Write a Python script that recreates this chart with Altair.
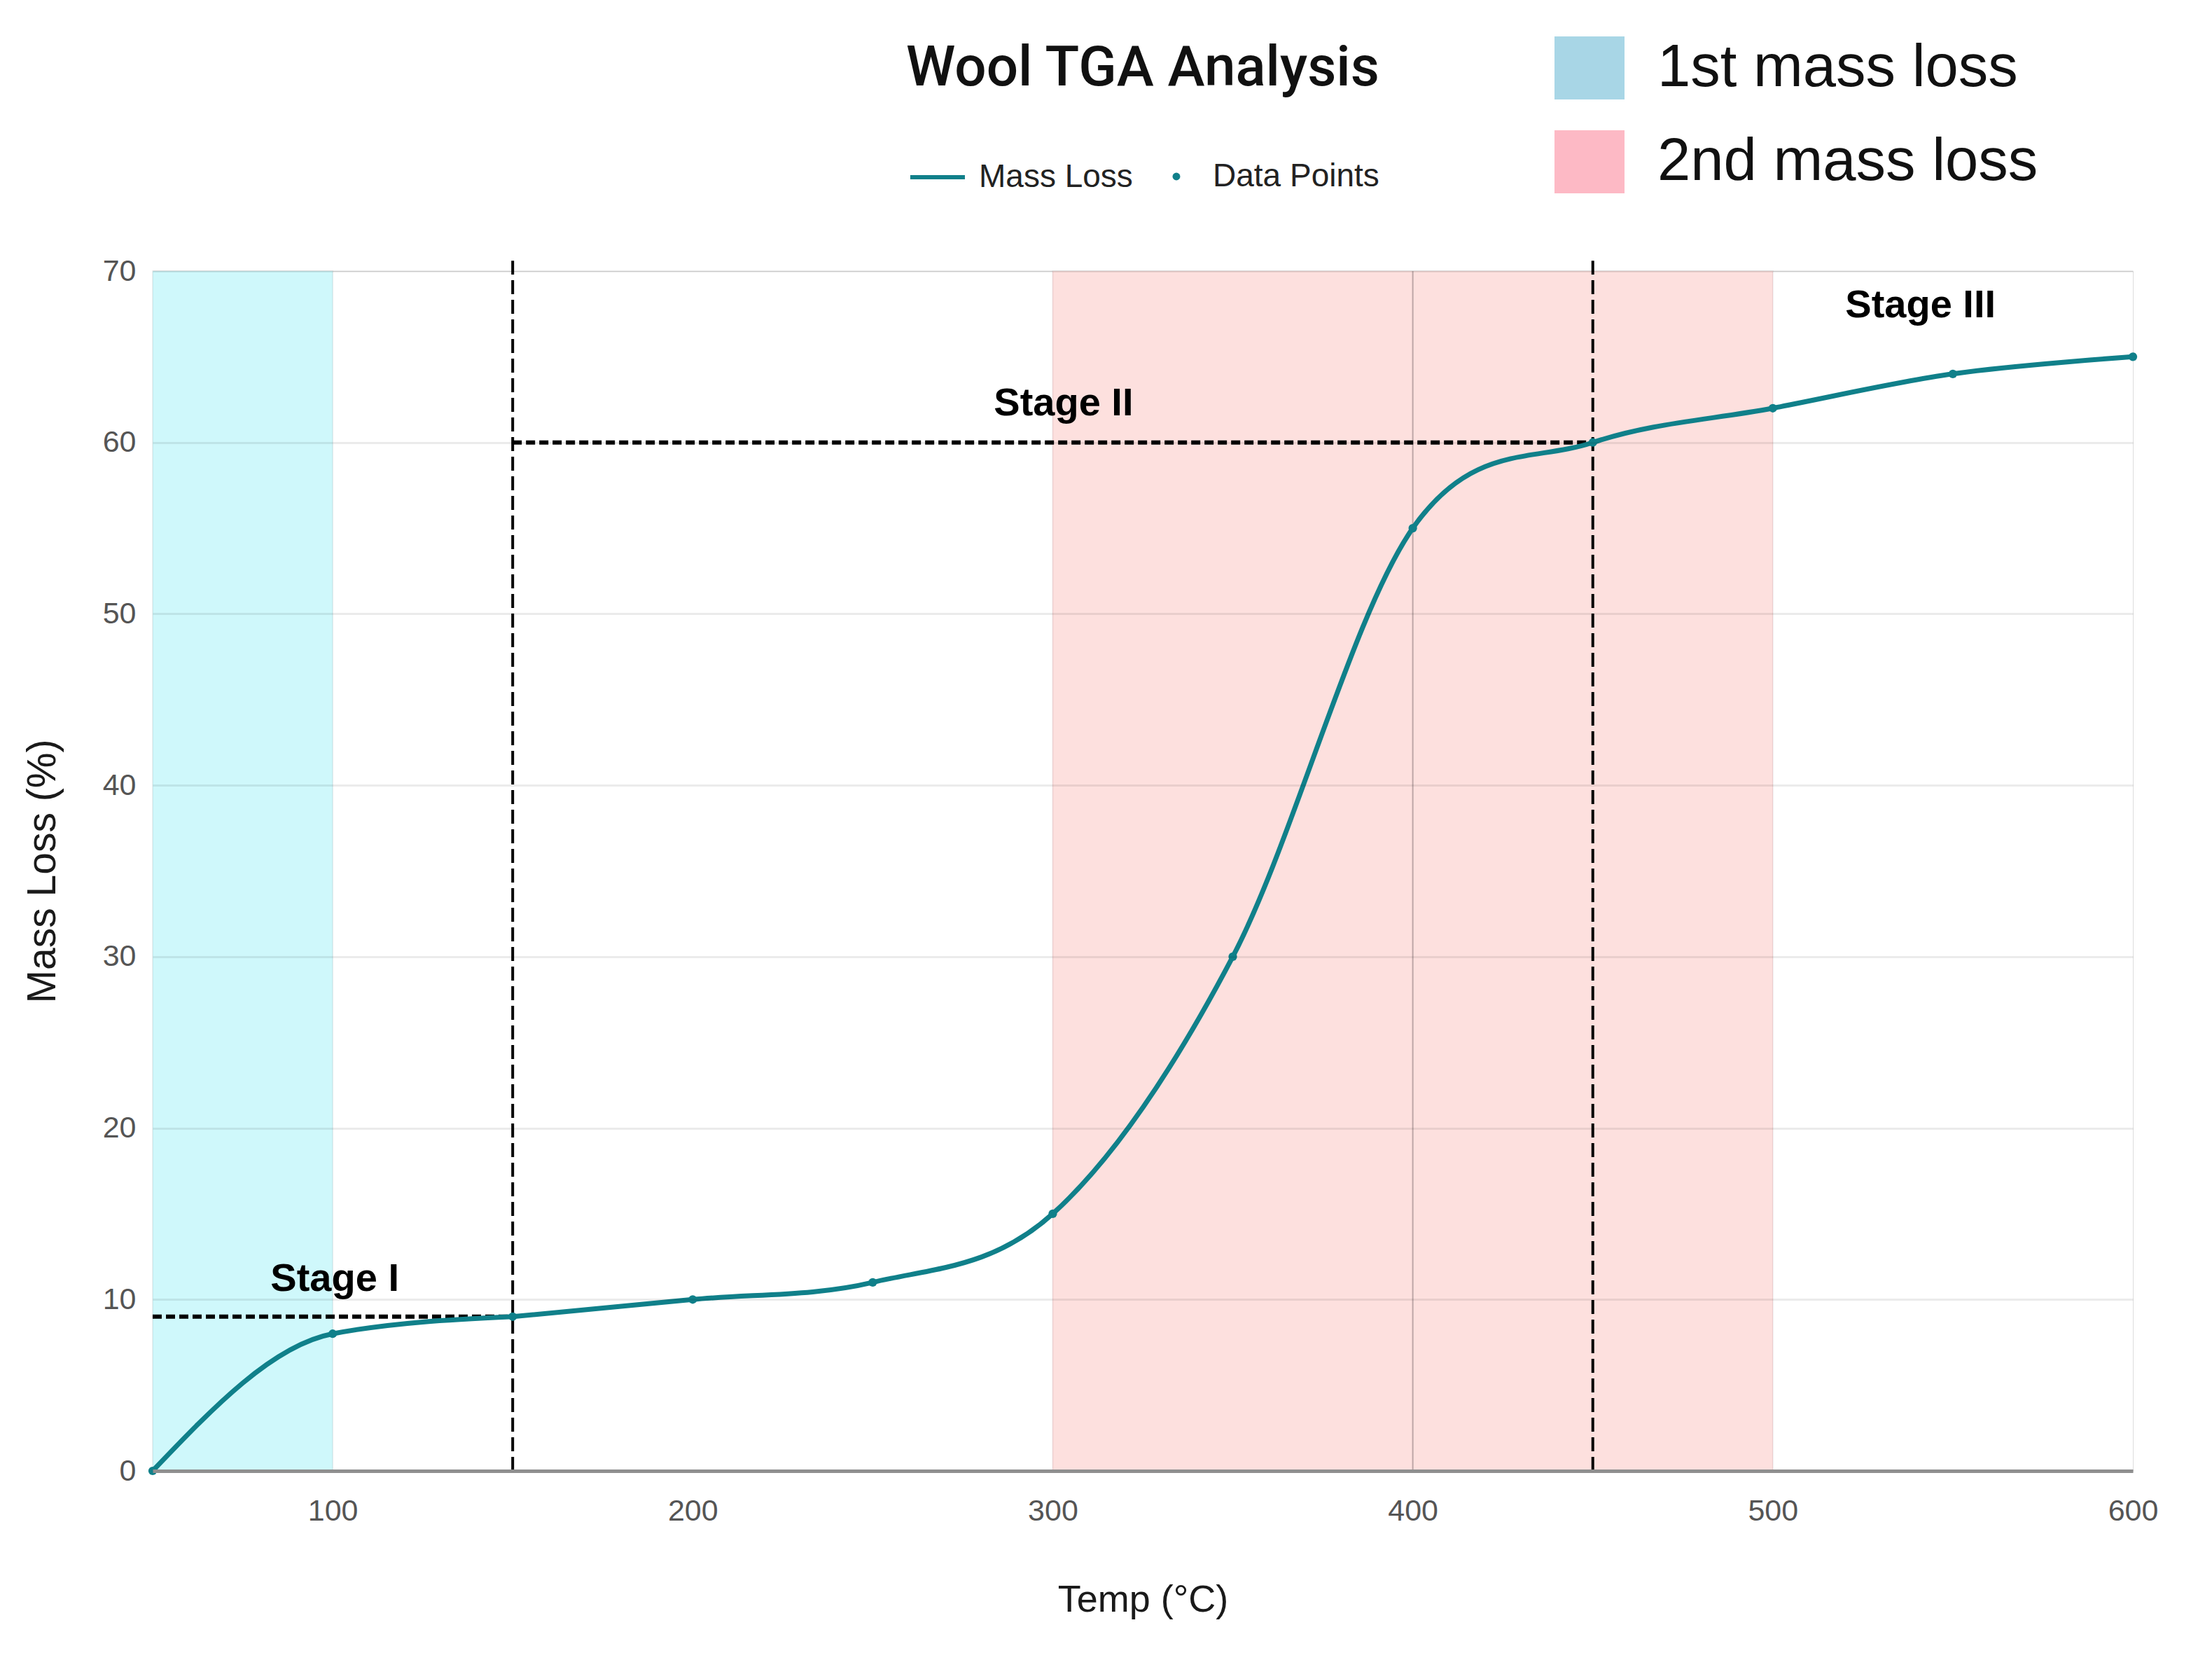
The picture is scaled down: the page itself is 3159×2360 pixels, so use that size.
import altair as alt
import pandas as pd

# ---- data ----
temps = [50, 100, 150, 200, 250, 300, 350, 400, 450, 500, 550, 600]
mass_loss = [0, 8, 9, 10, 11, 15, 30, 55, 60, 62, 64, 65]

band_names = ["1st mass loss", "2nd mass loss"]
band_start = [50, 300]
band_end = [100, 500]
band_bottom = [0, 0]
band_top = [70, 70]
band_fill = ["#cff8fb", "#fde0de"]
legend_fill = ["#a8d6e6", "#fdb9c5"]

stage_labels = ["Stage I", "Stage II", "Stage III"]
stage_x = [100.6, 303, 541]
stage_y = [10.5, 61.6, 67.3]

vline_x = [150, 450]
vline_bottom = [0, 0]
vline_top = [70.6, 70.6]
hline_y = [9, 60]
hline_x1 = [50, 150]
hline_x2 = [150, 450]

sep_x = [400]
sep_bottom = [0]
sep_top = [70]

x_ticks = [100, 200, 300, 400, 500, 600]
y_ticks = [0, 10, 20, 30, 40, 50, 60, 70]

TEAL = "#10808a"
W, H = 2828, 1713
FONT = "Liberation Sans"

# ---- tables ----
curve_df = pd.DataFrame({"temp": temps, "mass": mass_loss,
                         "series": ["Mass Loss"] * len(temps),
                         "pts": ["Data Points"] * len(temps)})
band_df = pd.DataFrame({"band": band_names, "legend_band": band_names,
                        "temp": band_start, "temp2": band_end,
                        "mass": band_bottom, "mass2": band_top})
stage_df = pd.DataFrame({"label": stage_labels, "temp": stage_x, "mass": stage_y})
vline_df = pd.DataFrame({"temp": vline_x, "mass": vline_bottom, "mass2": vline_top})
hline_df = pd.DataFrame({"temp": hline_x1, "temp2": hline_x2, "mass": hline_y})
sep_df = pd.DataFrame({"temp": sep_x, "mass": sep_bottom, "mass2": sep_top})

x_scale = alt.Scale(domain=[50, 600], nice=False, zero=False)
y_scale = alt.Scale(domain=[0, 70], nice=False, zero=True)

x_axis = alt.Axis(values=x_ticks, title="Temp (°C)", grid=False, ticks=False,
                  domain=True, domainColor="#8f8f8f", domainWidth=5, labelFlush=False,
                  labelPadding=36, labelFontSize=43, labelColor="#555555", labelFont=FONT,
                  titleFont=FONT, titleFontSize=54, titleFontWeight="normal", titleColor="#1a1a1a",
                  titleY=200, titleBaseline="alphabetic", zindex=1)
y_axis = alt.Axis(values=y_ticks, title="Mass Loss (%)", grid=True, gridColor="#000000",
                  gridOpacity=0.08, gridWidth=3, ticks=False, domain=False,
                  labelPadding=24, labelFontSize=43, labelColor="#555555", labelFont=FONT,
                  titleFont=FONT, titleFontSize=57, titleFontWeight="normal", titleColor="#1a1a1a",
                  titleX=-140, titleBaseline="alphabetic", titleAngle=270, zindex=1)


def X(field="temp"):
    return alt.X(f"{field}:Q", scale=x_scale, axis=x_axis)


def Y(field="mass"):
    return alt.Y(f"{field}:Q", scale=y_scale, axis=y_axis)


stroke_enc = alt.Stroke(
    "series:N", scale=alt.Scale(domain=["Mass Loss"], range=[TEAL]),
    legend=alt.Legend(orient="none", legendX=1079, legendY=-176, title=None,
                      symbolType="stroke", symbolSize=6084, symbolStrokeWidth=6,
                      labelFontSize=46, labelFont=FONT, labelColor="#222222",
                      labelOffset=17, padding=0, labelLimit=0))

# rects carrying the legend colours (hidden underneath the drawn bands)
legend_rects = alt.Chart(band_df).mark_rect().encode(
    x=X(), x2="temp2:Q", y=Y(), y2="mass2:Q",
    fill=alt.Fill("legend_band:N", scale=alt.Scale(domain=band_names, range=legend_fill),
                  legend=alt.Legend(orient="none", legendX=2002, legendY=-340, title=None,
                                    symbolType="M-1,-0.9H1V0.9H-1Z", symbolSize=10000,
                                    symbolStrokeWidth=0, symbolOpacity=1, labelFontSize=85,
                                    labelFont=FONT, labelColor="#111111", labelOffset=47,
                                    rowPadding=39, padding=0, labelLimit=0)),
)

bands = alt.Chart(band_df).mark_rect(stroke="#000000", strokeOpacity=0.06, strokeWidth=2).encode(
    x=X(), x2="temp2:Q", y=Y(), y2="mass2:Q",
    color=alt.Color("band:N", scale=alt.Scale(domain=band_names, range=band_fill), legend=None),
)

sep = alt.Chart(sep_df).mark_rule(color="#bda6a6", strokeWidth=2).encode(
    x=X(), y=Y(), y2="mass2:Q"
)

vlines = alt.Chart(vline_df).mark_rule(color="#000000", strokeWidth=4, strokeDash=[20, 8]).encode(
    x=X(), y=Y(), y2="mass2:Q"
)

hlines = alt.Chart(hline_df).mark_rule(color="#000000", strokeWidth=6, strokeDash=[13, 6]).encode(
    x=X(), x2="temp2:Q", y=Y()
)

# early, concave part of the curve (up to 150 °C) and the remainder
line_early = alt.Chart(curve_df).transform_filter("datum.temp <= 150").mark_line(
    interpolate="monotone", strokeWidth=7, strokeCap="round").encode(
    x=X(), y=Y(), stroke=stroke_enc)

line_late = alt.Chart(curve_df).transform_filter("datum.temp >= 150").mark_line(
    interpolate="cardinal", strokeWidth=7, strokeCap="round").encode(
    x=X(), y=Y(), stroke=stroke_enc)

points = alt.Chart(curve_df).mark_point(filled=True, size=150, color=TEAL, opacity=1).encode(
    x=X(), y=Y(),
    shape=alt.Shape("pts:N", scale=alt.Scale(domain=["Data Points"], range=["circle"]),
                    legend=alt.Legend(orient="none", legendX=1439, legendY=-158, title=None,
                                      symbolType="circle", symbolSize=120, symbolFillColor=TEAL,
                                      symbolStrokeWidth=0, labelFontSize=46, labelFont=FONT,
                                      labelColor="#222222", labelOffset=29, padding=0, labelLimit=0)),
)

stages = alt.Chart(stage_df).mark_text(font=FONT, fontSize=56, fontWeight="bold", color="#000000",
                                       align="center", baseline="alphabetic").encode(
    x=X(), y=Y(), text="label:N"
)

chart = alt.layer(legend_rects, bands, sep, vlines, hlines, line_early, line_late, points,
                  stages).properties(
    width=W, height=H,
    title=alt.TitleParams("Wool TGA Analysis", font="Roboto", fontSize=80, fontWeight=500,
                          anchor="middle", baseline="alphabetic", offset=-155, color="#111111",
                          frame="group"),
    autosize=alt.AutoSizeParams(type="none"),
    padding={"left": 210, "top": 379, "right": 100, "bottom": 240},
).configure_view(stroke=None).configure(background="white")

chart.save("out.html", embed_options={"renderer": "svg", "actions": False})
